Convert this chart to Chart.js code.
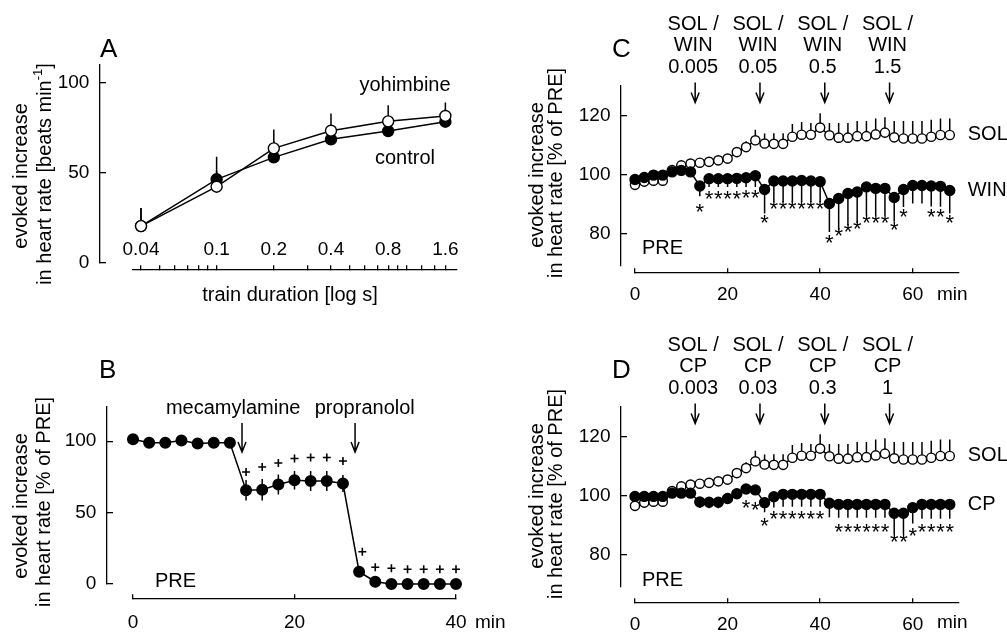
<!DOCTYPE html>
<html>
<head>
<meta charset="utf-8">
<script src="https://cdn.jsdelivr.net/npm/chart.js@4"></script>
<style>
    body { margin: 0; background: #fff; }
    #figure { position: relative; width: 1007px; height: 633px; background: #fff; }
    #figure canvas { position: absolute; left: 0; top: 0; }
</style>
</head>
<body>
<div id="figure">
    <canvas id="panelA" width="1007" height="633"></canvas>
    <canvas id="panelB" width="1007" height="633"></canvas>
    <canvas id="panelC" width="1007" height="633"></canvas>
    <canvas id="panelD" width="1007" height="633"></canvas>
</div>
<script>
const FONT = '"Liberation Sans", Arial, Helvetica, sans-serif'
Chart.defaults.font.family = FONT
Chart.defaults.color = '#000'

// panel A - train duration response
const trainDurations = [0.04, 0.1, 0.2, 0.4, 0.8, 1.6]
const controlA = [20.5, 46.5, 58.7, 68.7, 73.3, 78.5]
const controlSemA = [10, 12.5, 9, 8, 8, 7]
const yohimbineA = [20.5, 42.4, 63.7, 73.5, 78.7, 81.7]
const yohimbineSemA = [10, 9, 10.5, 9.5, 9, 7.5]
const durationLabelTicks = [0.04, 0.1, 0.2, 0.4, 0.8, 1.6]
const durationMinorTicks = [0.05, 0.06, 0.07, 0.08, 0.09, 0.3, 0.5, 0.6, 0.7, 0.9, 1, 1.2, 1.4]
const rateTicksA = [0, 50, 100]

// panel B - ganglionic / beta blockade
const minutesB = [0, 2, 4, 6, 8, 10, 12, 14, 16, 18, 20, 22, 24, 26, 28, 30, 32, 34, 36, 38, 40]
const blockadeB = [101.4, 99, 99, 100.5, 98.4, 99, 99, 65.7, 66, 69.7, 72.7, 72.2, 72.2, 70.4, 8.6, 1.6, 0, 0, 0, 0, 0]
const blockadeSemB = [0.8, 0.8, 0.8, 0.8, 0.8, 0.8, 0.8, 7.2, 7.5, 7, 6.5, 7, 7, 6, 2, 0.5, 0.5, 0.5, 0.5, 0.5, 0.5]
const plusMinutesB = [14, 16, 18, 20, 22, 24, 26, 28.4, 30, 32, 34, 36, 38, 40]
const plusLevelB = [78.5, 82, 84.8, 87.9, 88.6, 88.6, 86.2, 22.6, 11.7, 11, 10.3, 10.3, 10.3, 10.3]
const drugTimesB = [13.5, 27.5]
const drugLabelMinutesB = [12.4, 28.7]
const drugNamesB = ['mecamylamine', 'propranolol']
const percentTicksB = [0, 50, 100]
const minuteTicksB = [0, 20, 40]

// panels C and D - cumulative doses, solvent vs agonist
const minutesCD = [0, 2, 4, 6, 8, 10, 12, 14, 16, 18, 20, 22, 24, 26, 28, 30, 32, 34, 36, 38, 40, 42, 44, 46, 48, 50, 52, 54, 56, 58, 60, 62, 64, 66, 68]
const solvent = [96.5, 97.6, 97.9, 97.9, 101.5, 103.1, 103.7, 104, 104.3, 104.8, 105.4, 107.6, 109.3, 111.6, 110.5, 110.4, 110.4, 112.8, 113.5, 113.5, 115.9, 113.3, 112.5, 112.5, 113, 113, 113.6, 114.2, 112.6, 112.2, 112.2, 112.2, 112.8, 113.4, 113.4]
const solventSem = [0.8, 0.8, 0.8, 0.8, 0.8, 1, 1, 1, 1, 1, 1, 1.5, 2, 3.6, 3.4, 3.6, 3.6, 4.3, 4.3, 4, 4.9, 4.2, 5, 5, 5.1, 5.1, 5.4, 5.2, 5.5, 5.9, 5.9, 5.9, 5.8, 5.6, 5.6]
const win = [98.3, 99, 99.8, 99.8, 100.9, 101.4, 100.9, 96.1, 98.6, 98.6, 98.6, 98.7, 98.9, 99.6, 94.9, 97.8, 97.8, 97.8, 98, 97.8, 97.6, 90.2, 91.9, 93.6, 94.1, 95.8, 95.3, 95.3, 92.2, 94.9, 96.3, 96.3, 96.1, 96, 94.6]
const winSem = [0.8, 0.8, 0.8, 0.8, 0.8, 0.8, 0.8, 3.5, 2.8, 2.8, 2.8, 2.9, 3.1, 3.8, 8.1, 7.1, 7.1, 7.1, 7.3, 7.1, 6.9, 9.7, 10.8, 10.8, 10.5, 9.6, 9.1, 9.1, 8.2, 5.9, 6.1, 6.1, 6.9, 6.9, 7.8]
const cp = [99.7, 99.7, 99.7, 99.7, 100.8, 100.8, 100.8, 97.8, 97.7, 97.7, 99, 100.6, 102.2, 101.9, 97.6, 99.6, 100.4, 100.4, 100.4, 100.4, 100.4, 97.4, 97, 97, 97, 97, 97, 97, 94, 94, 95.9, 97, 97, 97, 97]
const cpSem = [0.8, 0.8, 0.8, 0.8, 0.8, 0.8, 0.8, 2, 2, 2, 1.2, 1.2, 1.5, 1.5, 3.3, 3.7, 4.2, 4.2, 4.2, 4.2, 4.2, 4.8, 4.5, 4.5, 4.5, 4.5, 4.5, 4.5, 7, 7, 5.4, 4.9, 4.9, 4.9, 4.9]
const starMinutesC = [14, 16, 18, 20, 22, 24, 26, 28, 30, 32, 34, 36, 38, 40, 42, 44, 46, 48, 50, 52, 54, 56, 58, 64, 66, 68]
const starLevelC = [88.5, 93, 93, 93, 93, 93.3, 93.3, 84.8, 89.6, 89.6, 89.6, 89.6, 89.6, 89.8, 78.3, 80.6, 81.9, 82.8, 84.8, 84.8, 84.8, 82.5, 86.8, 86.8, 86.8, 84.8]
const starMinutesD = [24, 26, 28, 30, 32, 34, 36, 38, 40, 44, 46, 48, 50, 52, 54, 56, 58, 60, 62, 64, 66, 68]
const starLevelD = [97.2, 96.6, 91, 93.4, 93.4, 93.4, 93.4, 93.4, 93.4, 89, 89, 89, 89, 89, 89, 85.7, 85.7, 87.6, 89, 89, 89, 89]
const doseTimes = [13, 27, 41, 55]
const winDoses = ['0.005', '0.05', '0.5', '1.5']
const cpDoses = ['0.003', '0.03', '0.3', '1']
const percentTicksCD = [80, 100, 120]
const minuteTicksCD = [0, 20, 40, 60]

function drawText(ctx, text, x, y, size = 20, align = 'center') {
    ctx.save()
    ctx.font = `${size}px ${FONT}`
    ctx.fillStyle = '#000'
    ctx.textAlign = align
    ctx.textBaseline = 'middle'
    ctx.fillText(text, x, y)
    ctx.restore()
}

// rotated axis title, segments may be superscript
function drawVertical(ctx, cx, cy, segments) {
    ctx.save()
    ctx.translate(cx, cy)
    ctx.rotate(-Math.PI / 2)
    ctx.fillStyle = '#000'
    ctx.textBaseline = 'middle'
    ctx.textAlign = 'left'
    const fontOf = seg => `${seg.sup ? 13 : 20}px ${FONT}`
    let total = 0
    for (const seg of segments) {
        ctx.font = fontOf(seg)
        total += ctx.measureText(seg.text).width
    }
    let x = -total / 2
    for (const seg of segments) {
        ctx.font = fontOf(seg)
        ctx.fillText(seg.text, x, seg.sup ? -7 : 0)
        x += ctx.measureText(seg.text).width
    }
    ctx.restore()
}

function drawArrow(ctx, x, y1, y2) {
    ctx.save()
    ctx.strokeStyle = '#000'
    ctx.lineWidth = 1.5
    ctx.beginPath()
    ctx.moveTo(x, y1)
    ctx.lineTo(x, y2)
    ctx.moveTo(x - 4, y2 - 10)
    ctx.lineTo(x, y2)
    ctx.lineTo(x + 4, y2 - 10)
    ctx.stroke()
    ctx.restore()
}

function drawStars(chart, minutes, levels) {
    const { ctx, scales: { x, y } } = chart
    ctx.save()
    ctx.font = `22px ${FONT}`
    ctx.textAlign = 'center'
    ctx.textBaseline = 'alphabetic'
    ctx.fillStyle = '#000'
    const m = ctx.measureText('*')
    const shift = (m.actualBoundingBoxAscent - m.actualBoundingBoxDescent) / 2
    minutes.forEach((t, i) => ctx.fillText('*', x.getPixelForValue(t), y.getPixelForValue(levels[i]) + shift))
    ctx.restore()
}

function drawPluses(chart, minutes, levels) {
    const { ctx, scales: { x, y } } = chart
    ctx.save()
    ctx.strokeStyle = '#000'
    ctx.lineWidth = 1.6
    ctx.beginPath()
    minutes.forEach((t, i) => {
        const px = x.getPixelForValue(t)
        const py = y.getPixelForValue(levels[i])
        ctx.moveTo(px - 4, py)
        ctx.lineTo(px + 4, py)
        ctx.moveTo(px, py - 4)
        ctx.lineTo(px, py + 4)
    })
    ctx.stroke()
    ctx.restore()
}

function drawErrorBars(chart, xs, ys, sems, dir) {
    const { ctx, scales: { x, y } } = chart
    ctx.save()
    ctx.strokeStyle = '#000'
    ctx.lineWidth = 1.5
    ctx.beginPath()
    xs.forEach((t, i) => {
        const px = x.getPixelForValue(t)
        const from = dir === 'both' ? ys[i] - sems[i] : ys[i]
        const to = dir === 'down' ? ys[i] - sems[i] : ys[i] + sems[i]
        ctx.moveTo(px, y.getPixelForValue(from))
        ctx.lineTo(px, y.getPixelForValue(to))
    })
    ctx.stroke()
    ctx.restore()
}

function series(xs, ys, filled, radius) {
    return {
        data: xs.map((x, i) => ({ x, y: ys[i] })),
        borderColor: '#000',
        borderWidth: 1.5,
        pointRadius: radius,
        pointBorderWidth: 1.4,
        pointBorderColor: '#000',
        pointBackgroundColor: filled ? '#000' : '#fff',
        tension: 0,
        fill: false,
        clip: false
    }
}

function xAxis(type, min, max, at, ticks, padding, label) {
    return {
        type, min, max,
        position: { y: at },
        border: { color: '#000', width: 1.3 },
        grid: { drawOnChartArea: false, color: '#000', lineWidth: 1.3, tickLength: -5 },
        ticks: {
            color: '#000', font: { size: 19 }, padding, autoSkip: false, maxRotation: 0, minRotation: 0,
            callback: label || (v => String(v))
        },
        afterBuildTicks: scale => { scale.ticks = ticks.map(value => ({ value })) }
    }
}

function yAxis(min, max, at, ticks) {
    return {
        type: 'linear', min, max,
        position: { x: at },
        border: { color: '#000', width: 1.3 },
        grid: { drawOnChartArea: false, color: '#000', lineWidth: 1.3, tickLength: -7 },
        ticks: { color: '#000', font: { size: 19 }, autoSkip: false, callback: v => v + '  ' },
        afterBuildTicks: scale => { scale.ticks = ticks.map(value => ({ value })) }
    }
}

function panel(id, padding, datasets, scales, under, over) {
    return new Chart(document.getElementById(id), {
        type: 'line',
        data: { datasets },
        options: {
            responsive: false,
            animation: false,
            events: [],
            layout: { padding },
            scales,
            plugins: { legend: { display: false }, tooltip: { enabled: false } }
        },
        plugins: [{ id: id + 'Marks', beforeDatasetsDraw: under, afterDraw: over }]
    })
}

const percentTitle = [{ text: 'in heart rate [% of PRE]' }]

// A
panel('panelA', { left: 133, top: 65, right: 550, bottom: 370 },
    [series(trainDurations, yohimbineA, false, 5.5), series(trainDurations, controlA, true, 5.5)],
    {
        x: xAxis('logarithmic', 0.0363, 1.842, -3.9, [...durationLabelTicks, ...durationMinorTicks], -26.4,
            v => durationLabelTicks.includes(v) ? String(v) : ''),
        y: yAxis(0, 110, 0.02433, rateTicksA)
    },
    chart => {
        drawErrorBars(chart, trainDurations, yohimbineA, yohimbineSemA, 'up')
        drawErrorBars(chart, trainDurations, controlA, controlSemA, 'up')
    },
    chart => {
        const ctx = chart.ctx
        drawText(ctx, 'A', 100, 50, 26, 'left')
        drawVertical(ctx, 21, 176, [{ text: 'evoked increase' }])
        drawVertical(ctx, 45, 174, [{ text: 'in heart rate [beats min' }, { text: '-1', sup: true }, { text: ']' }])
        drawText(ctx, 'train duration [log s]', 290, 295)
        drawText(ctx, 'yohimbine', 405, 85)
        drawText(ctx, 'control', 405, 158)
    })

// B
panel('panelB', { left: 133, top: 407, right: 551, bottom: 49 },
    [series(minutesB, blockadeB, true, 5.3)],
    {
        x: xAxis('linear', 0, 40, -10.5, minuteTicksB, 17.6),
        y: yAxis(0, 124, -3.22, percentTicksB)
    },
    chart => drawErrorBars(chart, minutesB, blockadeB, blockadeSemB, 'both'),
    chart => {
        const { ctx, chartArea, scales: { x } } = chart
        drawText(ctx, 'B', 99, 371, 26, 'left')
        drawVertical(ctx, 21, 506, [{ text: 'evoked increase' }])
        drawVertical(ctx, 44, 502, percentTitle)
        drugTimesB.forEach((t, i) => {
            drawArrow(ctx, x.getPixelForValue(t), chartArea.top + 16, chartArea.top + 45)
            drawText(ctx, drugNamesB[i], x.getPixelForValue(drugLabelMinutesB[i]), chartArea.top + 1)
        })
        drawPluses(chart, plusMinutesB, plusLevelB)
        drawText(ctx, 'PRE', 155, 581, 20, 'left')
        drawText(ctx, 'min', 475, 623, 19, 'left')
    })

function dosePanel(id, top, axisAt, agonist, agonistSem, agonistName, doses, starMinutes, starLevels, letter, letterY, preY, minY, titleY) {
    return panel(id, { left: 635, top, right: 48, bottom: 633 - top - 180 },
        [series(minutesCD, agonist, true, 5), series(minutesCD, solvent, false, 4.6)],
        {
            x: xAxis('linear', 0, 70, axisAt, minuteTicksCD, 15),
            y: yAxis(69, 130, -3.02, percentTicksCD)
        },
        chart => {
            drawErrorBars(chart, minutesCD, solvent, solventSem, 'up')
            drawErrorBars(chart, minutesCD, agonist, agonistSem, 'down')
        },
        chart => {
            const { ctx, chartArea, scales: { x, y } } = chart
            drawText(ctx, letter, 612, letterY, 26, 'left')
            drawVertical(ctx, 537, titleY + 2, [{ text: 'evoked increase' }])
            drawVertical(ctx, 556, titleY, percentTitle)
            doseTimes.forEach((t, i) => {
                const px = x.getPixelForValue(t)
                drawArrow(ctx, px, chartArea.top - 3.5, chartArea.top + 16.5)
                drawText(ctx, 'SOL /', px - 2, chartArea.top - 62)
                drawText(ctx, agonistName, px - 2, chartArea.top - 40.5)
                drawText(ctx, doses[i], px - 2, chartArea.top - 18.2)
            })
            drawStars(chart, starMinutes, starLevels)
            const last = minutesCD.length - 1
            const labelX = x.getPixelForValue(minutesCD[last]) + 18
            drawText(ctx, 'SOL', labelX, y.getPixelForValue(solvent[last]), 20, 'left')
            drawText(ctx, agonistName, labelX, y.getPixelForValue(agonist[last]), 20, 'left')
            drawText(ctx, 'PRE', 642, preY, 20, 'left')
            drawText(ctx, 'min', 937, minY, 19, 'left')
        })
}

dosePanel('panelC', 86, 66.6, win, winSem, 'WIN', winDoses, starMinutesC, starLevelC, 'C', 50, 248, 295, 173)
dosePanel('panelD', 407, 63.6, cp, cpSem, 'CP', cpDoses, starMinutesD, starLevelD, 'D', 371, 580, 623, 494)
</script>
</body>
</html>
